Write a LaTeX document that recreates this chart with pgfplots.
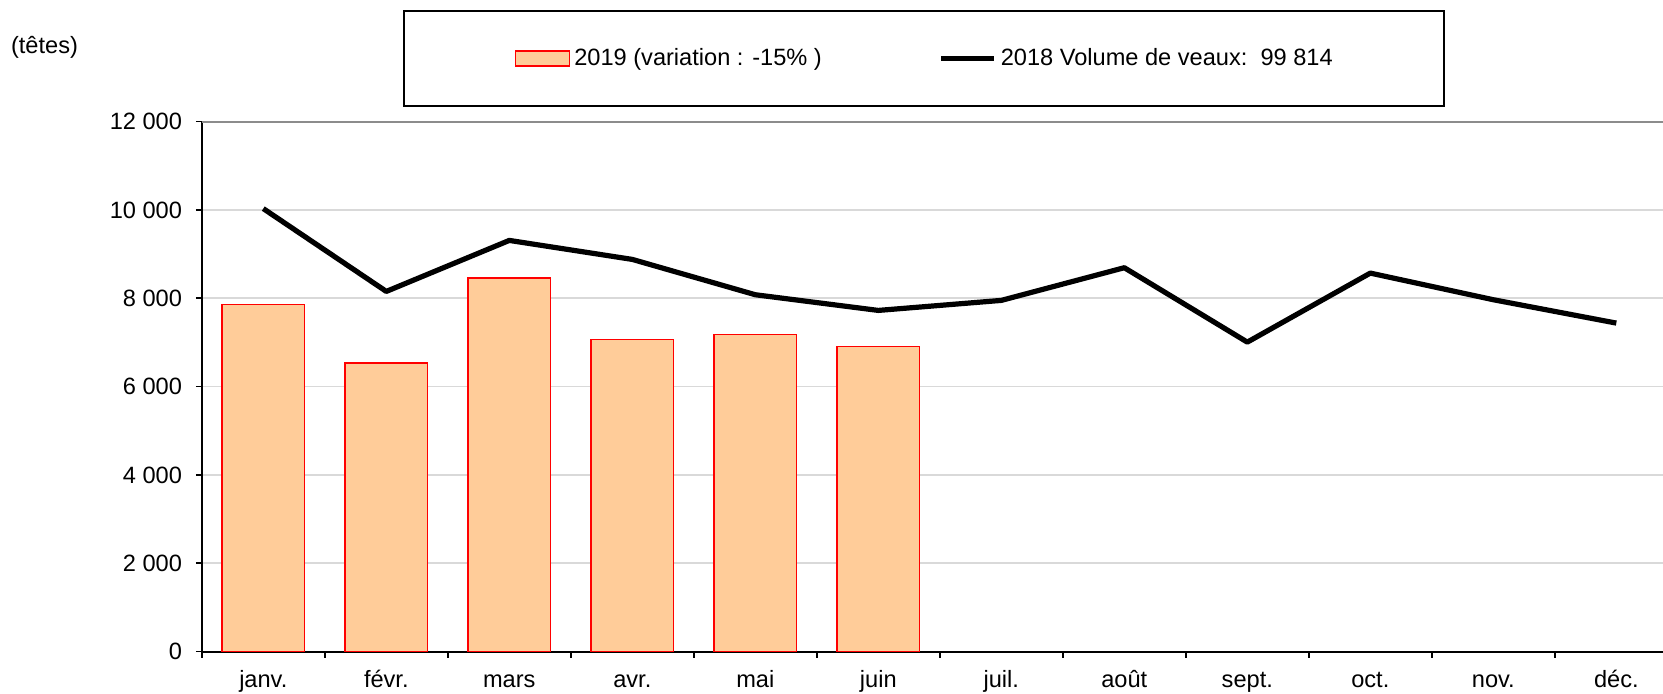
\documentclass[border=0pt]{standalone}
\usepackage{pgfplots}
\pgfplotsset{compat=1.18}
\usepackage{fontspec}
\setmainfont{Liberation Sans}
\definecolor{barfill}{HTML}{FFCC99}
\definecolor{gridgray}{HTML}{D9D9D9}
\definecolor{topgray}{HTML}{8C8C8C}

\pgfplotsset{
    barleg/.style={legend image code/.code={\draw[##1] (0pt,-3.7pt) rectangle (27pt,3.7pt);}},
    lineleg/.style={legend image code/.code={\draw[##1] (0pt,0pt) -- (26.5pt,0pt);}},
}

\begin{document}
\fontsize{11.8pt}{14pt}\selectfont
\begin{tikzpicture}
\begin{axis}[
    at={(0,0)}, anchor=south west,
    scale only axis, width=738pt, height=265pt,
    xmin=-0.5, xmax=11.5, ymin=0, ymax=12000,
    axis x line*=bottom, axis y line*=left,
    axis line style={-, line width=1pt, black},
    tick align=outside,
    major tick length=3pt, minor tick length=3pt,
    xtick={0,...,11},
    xticklabels={janv.,févr.,mars,avr.,mai,juin,juil.,août,sept.,oct.,nov.,déc.},
    major x tick style={draw=none},
    minor xtick={-0.5,0.5,...,11.5},
    minor x tick style={black, line width=0.8pt},
    xticklabel style={anchor=base, inner sep=0pt, yshift=-14.7pt},
    ytick={0,2000,4000,6000,8000,10000,12000},
    yticklabels={0,2 000,4 000,6 000,8 000,10 000,12 000},
    scaled y ticks=false,
    ytick style={black, line width=0.8pt},
    yticklabel style={anchor=east, inner sep=0pt, xshift=-6.7pt},
    ymajorgrids, grid style={gridgray, line width=0.85pt},
    clip=false,
    legend columns=2,
    legend style={at={(axis description cs:0.4892,1.2106)}, anchor=north,
        draw=black, line width=1pt, inner xsep=55.5pt, inner ysep=18.6pt,
        nodes={inner sep=0pt},
        /tikz/every odd column/.append style={column sep=2pt},
        /tikz/every even column/.append style={column sep=58.4pt}},
]
\draw[topgray, line width=1pt] (rel axis cs:0,1) -- (rel axis cs:1,1);

\addplot[ybar, bar width=41.3pt, fill=barfill, draw=red, line width=0.7pt, barleg]
    coordinates {(0,7864) (1,6535) (2,8460) (3,7063) (4,7185) (5,6904)};
\addlegendentry{2019 (variation : -15\% )}

\addplot[black, line width=2.6pt, line join=round, mark=none, sharp plot, lineleg]
    coordinates {(0,10030) (1,8155) (2,9310) (3,8880) (4,8080) (5,7725)
                 (6,7952) (7,8692) (8,7007) (9,8570) (10,7967) (11,7438)};
\addlegendentry{2018 Volume de veaux:\ \ 99 814}

\node[anchor=west, inner sep=0pt] at (axis description cs:-0.1295,1.1396) {(têtes)};
\end{axis}
\pgfresetboundingbox
\useasboundingbox (-100.9pt,-20.7pt) rectangle (730.6pt,325.8pt);
\end{tikzpicture}
\end{document}
